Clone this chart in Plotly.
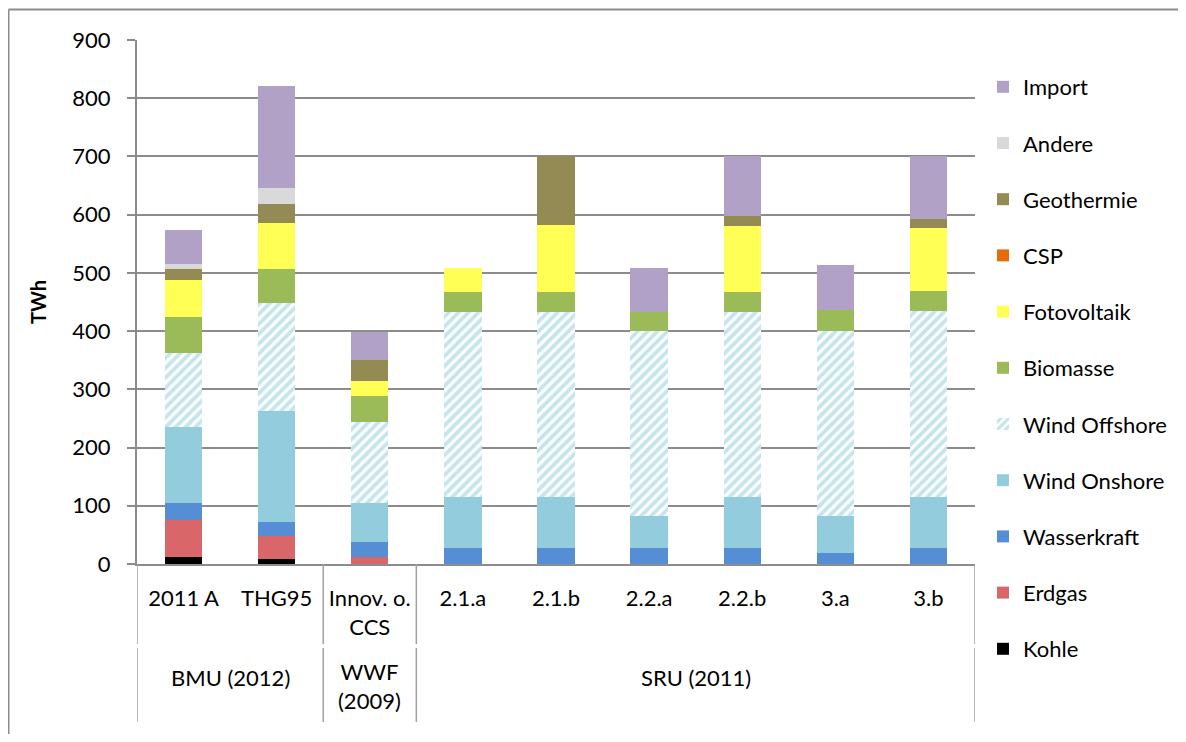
import plotly.graph_objects as go

categories = ["2011 A", "THG95", "Innov. o.<br>CCS", "2.1.a", "2.1.b", "2.2.a", "2.2.b", "3.a", "3.b"]
groups = ["BMU (2012)", "WWF<br>(2009)", "SRU (2011)"]
group_members = [[0, 1], [2], [3, 4, 5, 6, 7, 8]]

kohle        = [12, 9, 0, 0, 0, 0, 0, 0, 0]
erdgas       = [64, 39, 12, 0, 0, 0, 0, 0, 0]
wasserkraft  = [28, 25, 25, 28, 28, 28, 28, 19, 28]
wind_onshore = [131, 190, 67, 87, 87, 55, 87, 64, 87]
wind_offshore= [128, 185, 140, 318, 318, 317, 318, 317, 319]
biomasse     = [61, 59, 44, 35, 35, 33, 35, 37, 35]
fotovoltaik  = [63, 79, 26, 40, 114, 0, 112, 0, 108]
csp          = [0, 0, 0, 0, 0, 0, 0, 0, 0]
geothermie   = [20, 32, 36, 0, 118, 0, 17, 0, 16]
andere       = [8, 28, 0, 0, 0, 0, 0, 0, 0]
import_      = [59, 175, 48, 0, 0, 76, 103, 76, 108]

series = [
    ("Kohle", kohle, "#000000", None),
    ("Erdgas", erdgas, "#d9676a", None),
    ("Wasserkraft", wasserkraft, "#558ed5", None),
    ("Wind Onshore", wind_onshore, "#93cddd", None),
    ("Wind Offshore", wind_offshore, "#8ccbdc", "/"),
    ("Biomasse", biomasse, "#9bbb59", None),
    ("Fotovoltaik", fotovoltaik, "#ffff55", None),
    ("CSP", csp, "#e46c0a", None),
    ("Geothermie", geothermie, "#948a54", None),
    ("Andere", andere, "#d9d9d9", None),
    ("Import", import_, "#b2a1c7", None),
]

FONT = "Lato"
FS = 22
xpos = list(range(len(categories)))

fig = go.Figure()
n = len(series)
for i, (name, vals, color, pat) in enumerate(series):
    if pat:
        marker = dict(color="white", line=dict(width=0),
                      pattern=dict(shape=pat, fgcolor=color, bgcolor="white",
                                   size=7, solidity=0.55, fillmode="overlay"))
    else:
        marker = dict(color=color, line=dict(width=0))
    fig.add_trace(go.Bar(x=xpos, y=vals, name=name, marker=marker, width=0.4,
                         legendgroup=name, legendrank=n - i))

# page body has an 8px margin; work in screen px and shift
OFF = 8
W, H = 1186 - 2 * OFF, 742 - 2 * OFF
L, R, T, B = 137 - OFF, 975 - OFF, 40 - OFF, 564 - OFF
ph = B - T
pw = R - L

def py(pix):  # screen px -> paper y
    return (B - (pix - OFF)) / ph

def px(pix):  # screen px -> paper x
    return ((pix - OFF) - L) / pw

shapes = []
for xv in [-0.5, 1.5, 2.5, 8.5]:
    shapes.append(dict(type="line", xref="x", yref="paper", x0=xv, x1=xv,
                       y0=py(564), y1=py(644), line=dict(color="#a0a0a0", width=1.5)))
    shapes.append(dict(type="line", xref="x", yref="paper", x0=xv, x1=xv,
                       y0=py(648), y1=py(722), line=dict(color="#a0a0a0", width=1.5)))
# outer frame
shapes.append(dict(type="line", xref="paper", yref="paper", x0=px(8.5), x1=px(1200),
                   y0=py(9.5), y1=py(9.5), line=dict(color="#8c8c8c", width=2)))
shapes.append(dict(type="line", xref="paper", yref="paper", x0=px(8.5), x1=px(8.5),
                   y0=py(9.5), y1=py(760), line=dict(color="#8c8c8c", width=2)))

annotations = []
for g, members in zip(groups, group_members):
    center = sum(members) / len(members)
    yy = py(677) if "<br>" not in g else py(686)
    annotations.append(dict(x=center, y=yy, xref="x", yref="paper", text=g,
                            showarrow=False, xanchor="center", yanchor="middle",
                            font=dict(family=FONT, size=FS, color="black")))

fig.update_layout(
    width=W, height=H,
    margin=dict(l=L, r=W - R, t=T, b=H - B, pad=0, autoexpand=False),
    barmode="stack",
    plot_bgcolor="white", paper_bgcolor="white",
    font=dict(family=FONT, size=FS, color="black"),
    shapes=shapes,
    annotations=annotations,
    legend=dict(x=px(983), y=py(66), xanchor="left", yanchor="top",
                traceorder="grouped", tracegroupgap=24.6, maxheight=720,
                font=dict(family=FONT, size=FS, color="black"),
                bgcolor="rgba(0,0,0,0)"),
    xaxis=dict(range=[-0.5, 8.5], tickvals=xpos, ticktext=categories,
               showgrid=False, showline=True, linecolor="#8c8c8c", linewidth=2,
               ticks="", ticklabelstandoff=14, zeroline=False,
               tickfont=dict(family=FONT, size=FS, color="black")),
    yaxis=dict(range=[0, 900], dtick=100, showgrid=True, gridcolor="#8c8c8c",
               gridwidth=1.5, showline=True, linecolor="#8c8c8c", linewidth=2,
               ticks="outside", ticklen=8, tickcolor="#8c8c8c", tickwidth=1.5,
               zeroline=False, ticklabelstandoff=12,
               tickfont=dict(family=FONT, size=FS, color="black"),
               title=dict(text="<b>TWh</b>", standoff=20,
                          font=dict(family=FONT, size=20, color="black"))),
)

fig.write_html("out.html")
